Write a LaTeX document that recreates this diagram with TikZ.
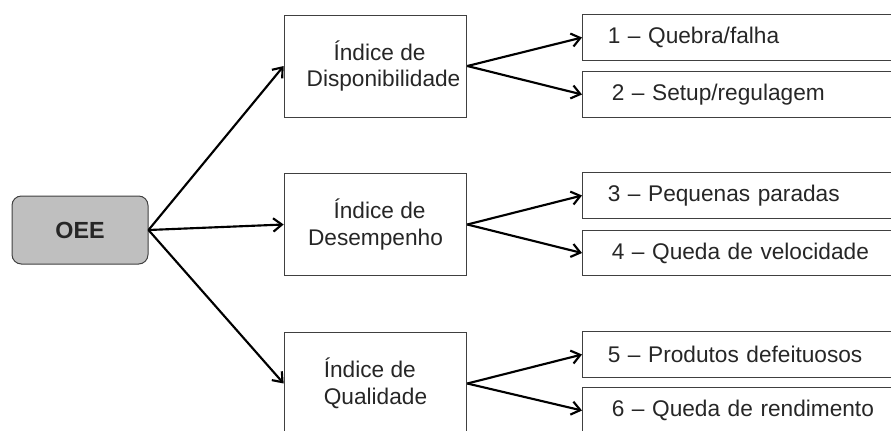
\documentclass[tikz,border=0pt]{standalone}
\usepackage{fontspec}
\setmainfont{Liberation Sans}
\usetikzlibrary{arrows.meta}
\definecolor{oeefill}{HTML}{BFBFBF}
\definecolor{boxline}{HTML}{404040}

\begin{document}
\begin{tikzpicture}[->,>={Straight Barb[length=6.5pt,width=10pt]},x=0.75pt,y=-0.75pt,
  font=\fontsize{17}{20}\selectfont,text=black!85,
  main node/.style={draw=boxline,fill=oeefill,rounded corners=7pt,line width=0.75pt,
    minimum width=102pt,minimum height=51pt,font=\bfseries\fontsize{17.5}{20}\selectfont},
  index node/.style={draw=boxline,line width=0.75pt,minimum width=137pt,minimum height=76.5pt},
  cause node/.style={draw=boxline,line width=0.75pt,anchor=west,text width=220pt,
    inner xsep=19pt,minimum height=34pt,align=left}]

  \useasboundingbox (0,0) rectangle (891,430);

  \node[main node] (oee) at (80,230) {OEE};

  \node[index node,align=center] (disp) at (375.5,66) {\hspace{6pt}Índice de\\\hspace{12pt}Disponibilidade};
  \node[index node,align=center] (desemp) at (375.5,224.5) {\hspace{6pt}Índice de\\Desempenho};
  \node[index node,align=left] (qual) at (375.5,383.5) {Índice de\\Qualidade};

  \node[cause node] (q1) at (582,37.5) {1 -- Quebra/falha};
  \node[cause node] (q2) at (582,94.5) {\hspace{3pt}2 -- Setup/regulagem};
  \node[cause node] (q3) at (582,195.5) {3 -- Pequenas paradas};
  \node[cause node] (q4) at (582,253) {\hspace{3pt}4 -- Queda de velocidade};
  \node[cause node] (q5) at (582,354.5) {5 -- Produtos defeituosos};
  \node[cause node] (q6) at (582,410.5) {\hspace{3pt}6 -- Queda de rendimento};

  \path[line width=1.6pt]
(oee.east)	edge (disp.west)
	edge (desemp.west)
	edge (qual.west)
(disp.east)	edge (q1.west)
	edge (q2.west)
(desemp.east)	edge (q3.west)
	edge (q4.west)
(qual.east)	edge (q5.west)
	edge (q6.west);
\end{tikzpicture}
\end{document}
